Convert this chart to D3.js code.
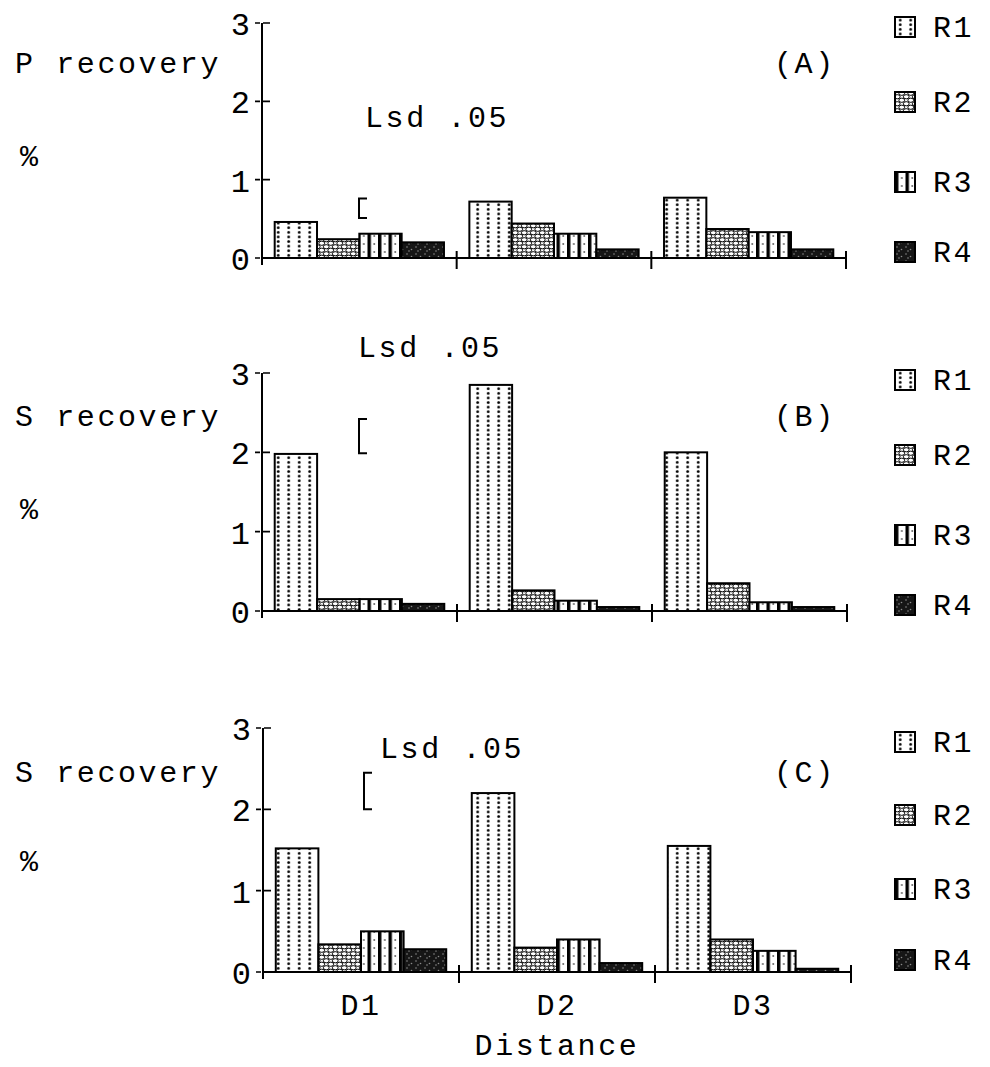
<!DOCTYPE html>
<html>
<head>
<meta charset="utf-8">
<script src="https://cdn.jsdelivr.net/npm/d3@7"></script>
<style>
  html, body { margin: 0; padding: 0; background: #fff; }
  svg text { font-family: "Liberation Mono", "DejaVu Sans Mono", monospace; fill: #000; }
</style>
</head>
<body>
<svg id="chart" width="990" height="1067"></svg>
<script>
// Categories and series
const distances = ["D1", "D2", "D3"];
const treatments = ["R1", "R2", "R3", "R4"];
const yTicks = [0, 1, 2, 3];
const yTickLabels = ["0", "1", "2", "3"];

// (A) P recovery %, one array per treatment across D1..D3
const panelA_R1 = [0.46, 0.72, 0.77];
const panelA_R2 = [0.24, 0.44, 0.37];
const panelA_R3 = [0.31, 0.31, 0.33];
const panelA_R4 = [0.20, 0.11, 0.11];

// (B) S recovery %
const panelB_R1 = [1.98, 2.85, 2.00];
const panelB_R2 = [0.15, 0.26, 0.35];
const panelB_R3 = [0.15, 0.13, 0.11];
const panelB_R4 = [0.09, 0.05, 0.05];

// (C) S recovery %
const panelC_R1 = [1.52, 2.20, 1.55];
const panelC_R2 = [0.34, 0.30, 0.40];
const panelC_R3 = [0.50, 0.40, 0.26];
const panelC_R4 = [0.28, 0.11, 0.04];

// Lsd .05 bar: [lower, upper] on the value axis
const lsdA = [0.51, 0.76];
const lsdB = [1.99, 2.42];
const lsdC = [2.00, 2.45];

const panelTitles = ["P recovery", "S recovery", "S recovery"];
const panelLetters = ["(A)", "(B)", "(C)"];

const svg = d3.select("#chart");
const defs = svg.append("defs");

// ---- fill patterns ----
// R1: white with dotted vertical columns
const p1 = defs.append("pattern").attr("id", "pat-R1")
  .attr("patternUnits", "userSpaceOnUse").attr("width", 10.5).attr("height", 4.6);
p1.append("rect").attr("width", 10.5).attr("height", 4.6).attr("fill", "#fff");
p1.append("circle").attr("cx", 5.2).attr("cy", 2.3).attr("r", 1.4).attr("fill", "#000");

// R2: small honeycomb of open ovals
const p2 = defs.append("pattern").attr("id", "pat-R2")
  .attr("patternUnits", "userSpaceOnUse").attr("width", 9).attr("height", 7);
p2.append("rect").attr("width", 9).attr("height", 7).attr("fill", "#fff");
[[2.25, 1.75], [6.75, 5.25], [-2.25, 5.25], [11.25, 1.75], [6.75, -1.75], [2.25, 8.75]].forEach(([cx, cy]) => {
  p2.append("ellipse").attr("cx", cx).attr("cy", cy).attr("rx", 2.9).attr("ry", 2.1)
    .attr("fill", "#fff").attr("stroke", "#000").attr("stroke-width", 1);
});

// R3: heavy vertical stripes
const p3 = defs.append("pattern").attr("id", "pat-R3")
  .attr("patternUnits", "userSpaceOnUse").attr("width", 10.5).attr("height", 8);
p3.append("rect").attr("width", 10.5).attr("height", 8).attr("fill", "#fff");
p3.append("rect").attr("x", 0).attr("width", 3.4).attr("height", 8).attr("fill", "#000");
p3.append("circle").attr("cx", 6.8).attr("cy", 4).attr("r", 0.9).attr("fill", "#555");

// R4: dark stipple
const p4 = defs.append("pattern").attr("id", "pat-R4")
  .attr("patternUnits", "userSpaceOnUse").attr("width", 9).attr("height", 7);
p4.append("rect").attr("width", 9).attr("height", 7).attr("fill", "#161616");
[[2, 2], [6.5, 4.5], [4, 6]].forEach(([cx, cy]) => {
  p4.append("circle").attr("cx", cx).attr("cy", cy).attr("r", 0.8).attr("fill", "#8a8a8a");
});

const fills = { R1: "url(#pat-R1)", R2: "url(#pat-R2)", R3: "url(#pat-R3)", R4: "url(#pat-R4)" };

// ---- panel layout ----
const panels = [
  { series: [panelA_R1, panelA_R2, panelA_R3, panelA_R4], lsd: lsdA,
    y0: 258, y3: 23, x0: 262, x1: 846, lsdX: 359, lsdText: [365, 127],
    legendY: [27, 102, 182, 252] },
  { series: [panelB_R1, panelB_R2, panelB_R3, panelB_R4], lsd: lsdB,
    y0: 611, y3: 373, x0: 262, x1: 847, lsdX: 359, lsdText: [358, 357],
    legendY: [380, 455, 535, 605] },
  { series: [panelC_R1, panelC_R2, panelC_R3, panelC_R4], lsd: lsdC,
    y0: 972, y3: 728, x0: 263, x1: 851, lsdX: 364, lsdText: [380, 758],
    legendY: [742, 815, 889, 960] }
];

const fontSize = 30, letterSp = 2.6;

panels.forEach((p, i) => {
  const g = svg.append("g");
  const y = d3.scaleLinear().domain([0, 3]).range([p.y0, p.y3]);
  const xGroup = d3.scaleBand().domain(distances).range([p.x0, p.x1]).paddingInner(0).paddingOuter(0);
  const xBar = d3.scaleBand().domain(treatments).range([0, xGroup.bandwidth()]).paddingInner(0).paddingOuter(0.3);

  // bars
  const rows = [];
  distances.forEach((d, di) => {
    treatments.forEach((t, ti) => rows.push({ d, t, v: p.series[ti][di] }));
  });
  g.selectAll("rect.bar").data(rows).join("rect")
    .attr("class", "bar")
    .attr("x", r => xGroup(r.d) + xBar(r.t))
    .attr("y", r => y(r.v))
    .attr("width", xBar.bandwidth())
    .attr("height", r => y(0) - y(r.v))
    .attr("fill", r => fills[r.t])
    .attr("stroke", "#000").attr("stroke-width", 2);

  // y axis
  const yAxis = d3.axisLeft(y).tickValues(yTicks).tickFormat((d, k) => yTickLabels[k])
    .tickSize(0).tickPadding(12);
  const ya = g.append("g").attr("transform", `translate(${p.x0},0)`).call(yAxis);
  ya.select(".domain").remove();
  ya.selectAll("text").style("font-size", "32px").style("font-family", '"Liberation Mono", monospace')
    .attr("dy", "0.36em");
  g.append("line").attr("x1", p.x0).attr("x2", p.x0).attr("y1", y(3)).attr("y2", y(0) + 7)
    .attr("stroke", "#000").attr("stroke-width", 2);
  g.selectAll("line.ytick").data(yTicks).join("line").attr("class", "ytick")
    .attr("x1", p.x0 - 7).attr("x2", p.x0 + 8)
    .attr("y1", d => y(d)).attr("y2", d => y(d))
    .attr("stroke", "#000").attr("stroke-width", 1.6).attr("stroke-dasharray", "5,3,8");

  // x axis with group separators
  g.append("line").attr("x1", p.x0).attr("x2", p.x1).attr("y1", y(0)).attr("y2", y(0))
    .attr("stroke", "#000").attr("stroke-width", 2);
  g.selectAll("line.xtick").data(distances).join("line").attr("class", "xtick")
    .attr("x1", d => xGroup(d) + xGroup.bandwidth()).attr("x2", d => xGroup(d) + xGroup.bandwidth())
    .attr("y1", y(0) - 7).attr("y2", y(0) + 11)
    .attr("stroke", "#000").attr("stroke-width", 2);

  // Lsd bracket
  const bx = p.lsdX;
  g.append("path")
    .attr("d", `M${bx + 8},${y(p.lsd[1])} H${bx} V${y(p.lsd[0])} H${bx + 8}`)
    .attr("fill", "none").attr("stroke", "#000").attr("stroke-width", 2);
  g.append("text").attr("x", p.lsdText[0]).attr("y", p.lsdText[1])
    .style("font-size", fontSize + "px").style("letter-spacing", letterSp + "px")
    .text("Lsd .05");

  // titles
  const titleBase = p.y0 - (i === 2 ? 190 : 185);
  g.append("text").attr("x", 15).attr("y", titleBase)
    .style("font-size", fontSize + "px").style("letter-spacing", letterSp + "px")
    .text(panelTitles[i]);
  g.append("text").attr("x", 20).attr("y", p.y0 - (i === 2 ? 101 : 92))
    .style("font-size", fontSize + "px").text("%");
  g.append("text").attr("x", 774).attr("y", titleBase)
    .style("font-size", fontSize + "px").style("letter-spacing", letterSp + "px")
    .text(panelLetters[i]);

  // legend
  const lg = g.selectAll("g.leg").data(treatments).join("g").attr("class", "leg")
    .attr("transform", (t, k) => `translate(895,${p.legendY[k]})`);
  lg.append("rect").attr("x", 0).attr("y", -10).attr("width", 20).attr("height", 20)
    .attr("fill", t => fills[t]).attr("stroke", "#000").attr("stroke-width", 2);
  lg.append("text").attr("x", 38).attr("y", 10)
    .style("font-size", fontSize + "px").style("letter-spacing", letterSp + "px")
    .text(t => t);

  // category labels under the last panel
  if (i === 2) {
    g.selectAll("text.cat").data(distances).join("text").attr("class", "cat")
      .attr("x", d => xGroup(d) + xGroup.bandwidth() / 2).attr("y", 1015)
      .attr("text-anchor", "middle")
      .style("font-size", fontSize + "px").style("letter-spacing", letterSp + "px")
      .text(d => d);
    g.append("text").attr("x", 557).attr("y", 1055).attr("text-anchor", "middle")
      .style("font-size", fontSize + "px").style("letter-spacing", letterSp + "px")
      .text("Distance");
  }
});
</script>
</body>
</html>
